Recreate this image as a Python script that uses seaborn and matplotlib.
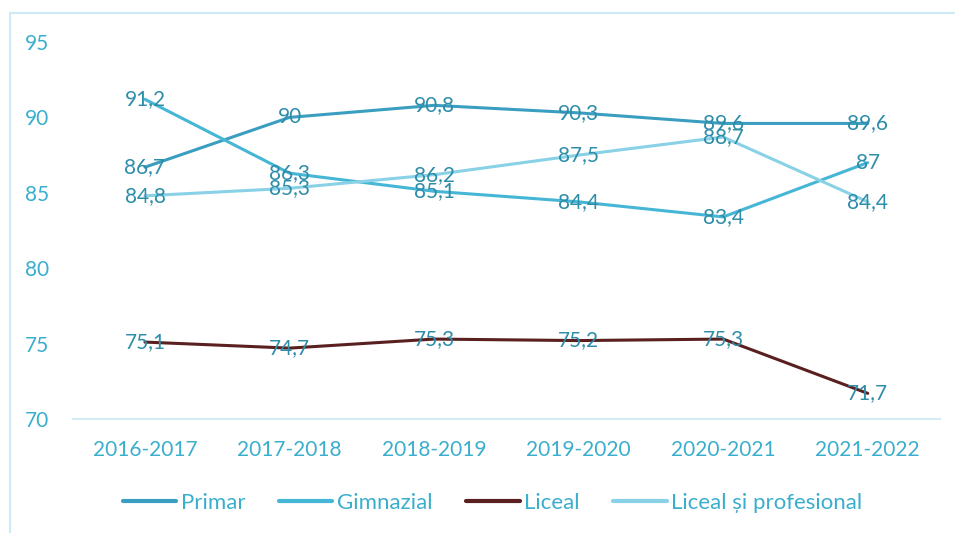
import matplotlib
matplotlib.use("Agg")
import matplotlib.pyplot as plt
import seaborn as sns
import pandas as pd
from matplotlib.lines import Line2D

years = ["2016-2017", "2017-2018", "2018-2019", "2019-2020", "2020-2021", "2021-2022"]
series_names = ["Primar", "Gimnazial", "Liceal", "Liceal și profesional"]
primar = [86.7, 90, 90.8, 90.3, 89.6, 89.6]
gimnazial = [91.2, 86.3, 85.1, 84.4, 83.4, 87]
liceal = [75.1, 74.7, 75.3, 75.2, 75.3, 71.7]
liceal_prof = [84.8, 85.3, 86.2, 87.5, 88.7, 84.4]
yticks = [70, 75, 80, 85, 90, 95]

colors = ["#3A9EC0", "#46B6D6", "#5A2020", "#88D1E6"]
label_color = "#2E8DA8"
tick_color = "#3AAECD"

sns.set_theme(style="white")
plt.rcParams["font.family"] = ["Lato", "DejaVu Sans"]

values = [primar, gimnazial, liceal, liceal_prof]
rows = []
for name, vals in zip(series_names, values):
    for i, (yr, v) in enumerate(zip(years, vals)):
        rows.append({"year": yr, "idx": i, "value": v, "series": name})
df = pd.DataFrame(rows)

fig = plt.figure(figsize=(9.55, 5.33), dpi=100)
ax = fig.add_axes([0.0761, 0.2139, 0.9843 - 0.0761, 0.9212 - 0.2139])

sns.lineplot(data=df, x="idx", y="value", hue="series", hue_order=series_names,
             palette=colors, linewidth=2.2, ax=ax, sort=False)

for name, vals in zip(series_names, values):
    for i, v in enumerate(vals):
        txt = f"{v:g}".replace(".", ",")
        ax.text(i, v, txt, ha="center", va="center", fontsize=15,
                color=label_color, zorder=5)

ax.set_xlim(-0.5, len(years) - 0.5)
ax.set_ylim(70, 95)
ax.set_xticks(range(len(years)))
ax.set_xticklabels(years)
ax.set_yticks(yticks)
ax.set_yticklabels([str(t) for t in yticks])
ax.tick_params(axis="both", colors=tick_color, labelsize=15, length=0)
ax.tick_params(axis="y", pad=17)
ax.tick_params(axis="x", pad=15)
for lbl in ax.get_xticklabels() + ax.get_yticklabels():
    lbl.set_color(tick_color)
ax.set_xlabel("")
ax.set_ylabel("")
for s in ["top", "right", "left"]:
    ax.spines[s].set_visible(False)
ax.spines["bottom"].set_color("#D3ECF5")
ax.spines["bottom"].set_linewidth(1.5)

handles, labels = ax.get_legend_handles_labels()
if ax.legend_:
    ax.legend_.remove()
leg = fig.legend(handles, labels, loc="center", bbox_to_anchor=(0.516, 0.056),
                 ncol=4, frameon=False, fontsize=16, handlelength=2.4,
                 handletextpad=0.22, columnspacing=1.5)
for t in leg.get_texts():
    t.set_color(tick_color)
for h in leg.get_lines():
    h.set_linewidth(3)

# figure frame lines (top and left)
fig.add_artist(Line2D([10 / 955, 1], [1 - 13 / 533, 1 - 13 / 533], transform=fig.transFigure,
                      color="#CDEBF6", linewidth=1.5))
fig.add_artist(Line2D([10 / 955, 10 / 955], [0, 1 - 13 / 533], transform=fig.transFigure,
                      color="#CDEBF6", linewidth=1.5))

fig.savefig("out.png", dpi=100)
